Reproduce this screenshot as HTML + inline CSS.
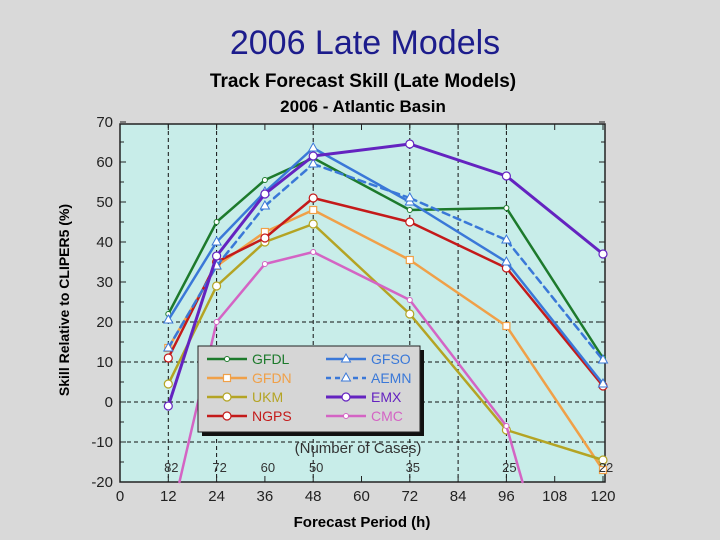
<!DOCTYPE html>
<html><head><meta charset="utf-8"><style>
html,body{margin:0;padding:0;width:720px;height:540px;overflow:hidden}
body{background:#d9d9d9;font-family:"Liberation Sans",Arial,sans-serif;position:relative}
svg{position:absolute;left:0;top:0;display:block}
</style></head><body>
<svg id="c" width="720" height="540">
<text x="365" y="54" font-size="34" fill="#1c1c8c" text-anchor="middle">2006 Late Models</text>
<text x="363" y="87" font-size="19" font-weight="bold" text-anchor="middle">Track Forecast Skill (Late Models)</text>
<text x="363" y="112" font-size="17" font-weight="bold" text-anchor="middle">2006 - Atlantic Basin</text>
<text x="362" y="527" font-size="15" font-weight="bold" text-anchor="middle">Forecast Period (h)</text>
<text transform="translate(69,300) rotate(-90)" font-size="14" font-weight="bold" text-anchor="middle">Skill Relative to CLIPER5 (%)</text>
<rect x="120" y="124" width="485" height="358" fill="#c8ede9" stroke="#222" stroke-width="1.5"/>
<g id="grid"></g><g id="axes"></g>
<g id="series"></g>
<g id="cases"></g>
<text x="358" y="453" font-size="15" fill="#333" text-anchor="middle">(Number of Cases)</text>
<g id="legend"></g>
</svg>
<script>
const hours=[12,24,36,48,72,96,120];
const gfdl=[22,45,55.5,61,48,48.5,11];
const gfdn=[13.5,34,42.5,48,35.5,19,-17];
const ukm=[4.5,29,40,44.5,22,-7,-14.5];
const ngps=[11,35,41,51,45,33.5,4];
const gfso=[20.5,40,52.5,63.5,50,35,4.5];
const aemn=[13.5,34,49,59.5,51,40.5,10.5];
const emx=[-1,36.5,52,61.5,64.5,56.5,37];
const cmc=[-32,20,34.5,37.5,25.5,-6,-90];
const caseHours=[12,24,36,48,72,96,120];
const caseCounts=["82","72","60","50","35","25","22"];
const xTicks=[0,12,24,36,48,60,72,84,96,108,120];
const yTicks=[70,60,50,40,30,20,10,0,-10,-20];
const gridX=[12,24,48,72,84,96];
const gridY=[20,10,0,-10];
const X=h=>120+h*(483/120), Y=v=>402-v*4;
const TOP=124,BOT=482;
const NS="http://www.w3.org/2000/svg";
function mk(p,t,a){const e=document.createElementNS(NS,t);for(const k in a)e.setAttribute(k,a[k]);p.appendChild(e);return e;}
const g=document.getElementById('grid');
gridX.forEach(h=>{const l=mk(g,'line',{x1:X(h),x2:X(h),y1:124,y2:482,stroke:'#111','stroke-dasharray':'4,3','stroke-width':1});

});
gridY.forEach(v=>{const l=mk(g,'line',{x1:120,x2:605,y1:Y(v),y2:Y(v),stroke:'#111','stroke-dasharray':'4,3','stroke-width':1});

});
const ax=document.getElementById('axes');
xTicks.forEach(h=>{mk(ax,'line',{x1:X(h),x2:X(h),y1:482,y2:476,stroke:'#222'});mk(ax,'line',{x1:X(h),x2:X(h),y1:124,y2:130,stroke:'#222'});
const t=mk(ax,'text',{x:X(h),y:501,'font-size':15,'text-anchor':'middle',fill:'#222'});t.textContent=h;

});
yTicks.forEach(v=>{mk(ax,'line',{x1:120,x2:126,y1:Y(v),y2:Y(v),stroke:'#222'});mk(ax,'line',{x1:599,x2:605,y1:Y(v),y2:Y(v),stroke:'#222'});
if(v>-20){mk(ax,'line',{x1:120,x2:124,y1:Y(v-5),y2:Y(v-5),stroke:'#222'});mk(ax,'line',{x1:601,x2:605,y1:Y(v-5),y2:Y(v-5),stroke:'#222'});}
const t=mk(ax,'text',{x:113,y:Y(v)+5,'font-size':15,'text-anchor':'end',fill:'#222'});t.textContent=v;

});
const cg=document.getElementById('cases');
caseHours.forEach((h,i)=>{const t=mk(cg,'text',{x:X(h)+3,y:472,'font-size':13,'text-anchor':'middle',fill:'#333'});t.textContent=caseCounts[i];

});
const S=[["GFDL",gfdl,"#1d7a2c",false,"d",2.5],["GFDN",gfdn,"#f0a048",false,"s",2.5],["UKM",ukm,"#b4a424",false,"o",2.5],["NGPS",ngps,"#c41a1a",false,"o",2.5],
["GFSO",gfso,"#3a78d8",false,"t",2.5],["AEMN",aemn,"#3a78d8",true,"t",2.5],["EMX",emx,"#6423c0",false,"o",3],["CMC",cmc,"#d464c4",false,"d",2.5]];
const sg=document.getElementById('series');
function marker(p,x,y,type,col){
 if(type==='o')return mk(p,'circle',{cx:x,cy:y,r:4,fill:'#fff',stroke:col,'stroke-width':1.2});
 if(type==='s')return mk(p,'rect',{x:x-3.5,y:y-3.5,width:7,height:7,fill:'#fff',stroke:col,'stroke-width':1.2});
 if(type==='t')return mk(p,'polygon',{points:`${x},${y-5} ${x-4.5},${y+3} ${x+4.5},${y+3}`,fill:'#fff',stroke:col,'stroke-width':1});
 return mk(p,'circle',{cx:x,cy:y,r:2.5,fill:'#fff',stroke:col,'stroke-width':1});
}
// clip segment vertically to plot area
function clipSeg(x1,y1,x2,y2){
 let t0=0,t1=1;const dy=y2-y1;
 for(const [p,q] of [[-dy,y1-TOP],[dy,BOT-y1]]){
  if(p===0){if(q<0)return null;continue;}
  const r=q/p;if(p<0){if(r>t1)return null;if(r>t0)t0=r;}else{if(r<t0)return null;if(r<t1)t1=r;}
 }
 return [x1+(x2-x1)*t0,y1+dy*t0,x1+(x2-x1)*t1,y1+dy*t1];
}
S.forEach(([n,d,col,dash,m,w])=>{
 const gg=mk(sg,'g',{});
 
 
 for(let i=0;i<hours.length-1;i++){
  const c=clipSeg(X(hours[i]),Y(d[i]),X(hours[i+1]),Y(d[i+1]));
  if(!c)continue;
  const a={x1:c[0],y1:c[1],x2:c[2],y2:c[3],stroke:col,'stroke-width':w,'stroke-linecap':'round'};
  if(dash)a['stroke-dasharray']='7,5';
  const l=mk(gg,'line',a);
  
  
 }
 hours.forEach((h,i)=>{const y=Y(d[i]);if(y<TOP||y>BOT)return;
 const e=marker(gg,X(h),y,m,col);
 
 });
});
const lg=document.getElementById('legend');


mk(lg,'rect',{x:202,y:350,width:222,height:86,fill:'#111'});
mk(lg,'rect',{x:198,y:346,width:222,height:86,fill:'#d6d6d6',stroke:'#222','stroke-width':1});
S.forEach(([n,d,col,dash,m,w],i)=>{
 const cx=i<4?205:324, y=359+(i%4)*19;
 const e=mk(lg,'g',{});
 
 
 const a={x1:cx+2,x2:cx+42,y1:y,y2:y,stroke:col,'stroke-width':w};if(dash)a['stroke-dasharray']='5,4';
 mk(e,'line',a);marker(e,cx+22,y,m,col);
 const t=mk(e,'text',{x:cx+47,y:y+5,'font-size':14,fill:col});t.textContent=n;
});
</script>
</body></html>
